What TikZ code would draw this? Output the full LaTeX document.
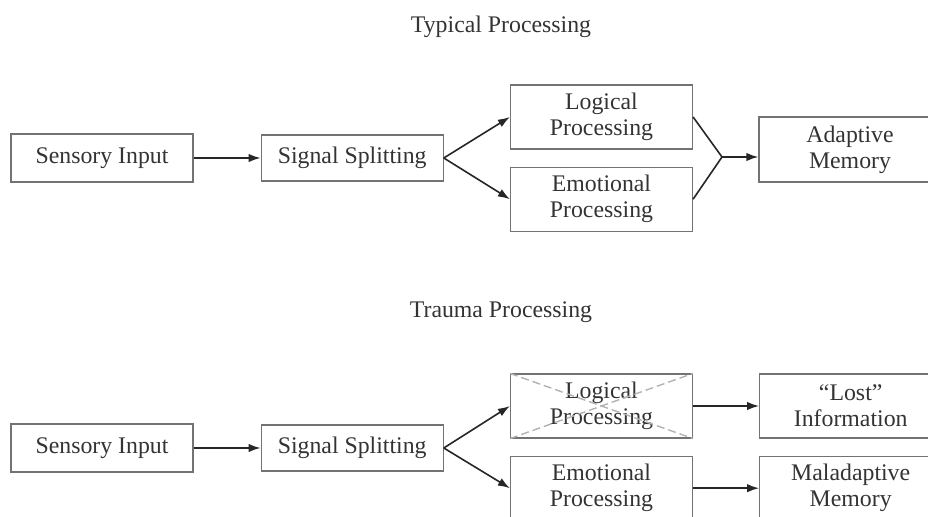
\documentclass[tikz,border=0pt]{standalone}
\usepackage{fontspec}
\setmainfont{Liberation Serif}
\usetikzlibrary{positioning,arrows.meta}

\tikzset{
    box/.style = {draw=black!55, line width=0.6pt, text=black!80, align=center,
                  minimum width=91pt, inner sep=0pt,
                  font=\fontsize{11.9}{13}\selectfont},
    title/.style = {text=black!80, inner sep=0pt, font=\fontsize{11.9}{13}\selectfont},
    flow/.style = {draw=black!85, line width=0.8pt, -{Latex[length=6pt,width=4.2pt]}},
    cross/.style = {draw=black!30, line width=0.7pt, dash pattern=on 4pt off 2pt}
}

\begin{document}
\begin{tikzpicture}[x=0.5pt, y=-0.5pt]
    \useasboundingbox (0,0) rectangle (928,517);
    \clip (0,0) rectangle (928,517);

    % typical processing
    \node[title] (t1) at (501,27) {Typical Processing};
    \node[box, minimum height=24pt] (si1) at (102,158) {Sensory Input};
    \node[box, minimum height=23pt] (ss1) [right = 33.5pt of si1] {Signal Splitting};
    \node[box, minimum height=32pt] (lp1) at (601.5,117) {Logical\\Processing};
    \node[box, minimum height=32pt] (ep1) [below = 8.5pt of lp1] {Emotional\\Processing};
    \node[box, minimum height=32.5pt] (am1) at (850,149.5) {Adaptive\\Memory};
    \coordinate (j1) at (722,157);
    \draw[flow] (si1) -- (ss1);
    \draw[flow] (ss1.east) -- (lp1.west);
    \draw[flow] (ss1.east) -- (ep1.west);
    \draw[line width=0.8pt, black!85] (lp1.east) -- (j1) -- (ep1.east);
    \draw[flow] (j1) -- (j1 -| am1.west);

    % trauma processing
    \node[title] (t2) at (501,312) {Trauma Processing};
    \node[box, minimum height=24pt] (si2) at (102,448) {Sensory Input};
    \node[box, minimum height=23pt] (ss2) [right = 33.5pt of si2] {Signal Splitting};
    \node[box, minimum height=32pt] (lp2) at (601.5,406) {Logical\\Processing};
    \node[box, minimum height=32pt] (ep2) [below = 8.5pt of lp2] {Emotional\\Processing};
    \node[box, minimum height=32pt] (li) [right = 33pt of lp2] {``Lost''\\Information};
    \node[box, minimum height=32pt] (mm) [right = 33pt of ep2] {Maladaptive\\Memory};
    \draw[cross] (lp2.north west) -- (lp2.south east);
    \draw[cross] (lp2.south west) -- (lp2.north east);
    \draw[flow] (si2) -- (ss2);
    \draw[flow] (ss2.east) -- (lp2.west);
    \draw[flow] (ss2.east) -- (ep2.west);
    \draw[flow] (lp2) -- (li);
    \draw[flow] (ep2) -- (mm);
\end{tikzpicture}
\end{document}
